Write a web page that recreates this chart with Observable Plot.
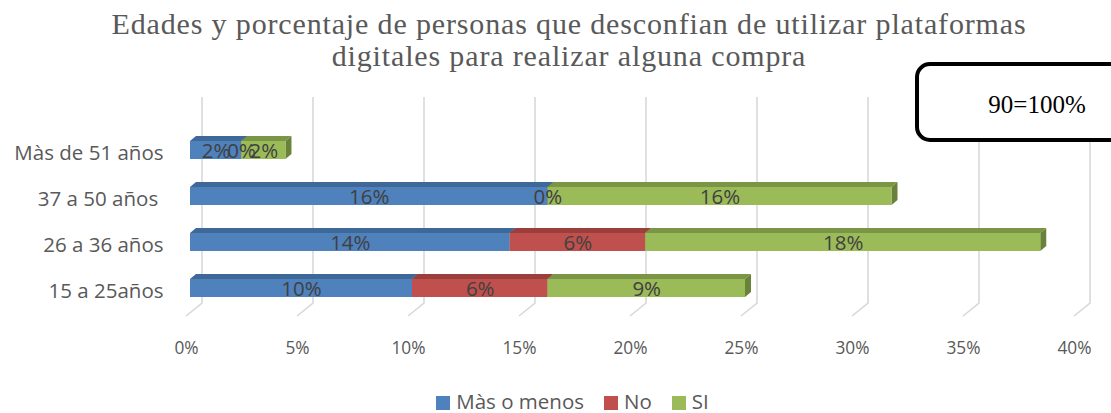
<!DOCTYPE html>
<html><head><meta charset="utf-8">
<script src="https://cdn.jsdelivr.net/npm/d3@7"></script>
<script src="https://cdn.jsdelivr.net/npm/@observablehq/plot@0.6"></script>
<style>
body{margin:0;width:1111px;height:413px;overflow:hidden;background:#fff;position:relative;font-family:"Open Sans",sans-serif;}
#title{font-family:"Liberation Serif","Times New Roman",serif;font-size:30px;letter-spacing:0.85px;line-height:32px;color:#595959;text-align:center;padding:8px 0 0 27px;height:72px;}
#chart svg{display:block;}
#box{position:absolute;left:915px;top:62px;width:236px;height:66px;padding-top:6px;border:4px solid #000;border-radius:15px;background:#fff;font-family:"Liberation Serif","Times New Roman",serif;font-size:25px;color:#000;display:flex;align-items:center;justify-content:center;z-index:2;}
#legend{position:absolute;left:0;top:391px;width:1111px;box-sizing:border-box;padding-left:34px;height:20px;display:flex;justify-content:center;align-items:center;font-size:20.5px;line-height:20px;color:#595959;}
#legend .item{display:flex;align-items:center;margin:0 10px;}
#legend .sw{width:14px;height:14px;margin-right:6px;position:relative;top:2px;}
</style></head>
<body>
<div id="title">Edades y porcentaje de personas que desconfian de utilizar plataformas<br>digitales para realizar alguna compra</div>
<div id="chart"></div>
<div id="box">90=100%</div>
<div id="legend"></div>
<script>
const categories = ["Màs de 51 años", "37 a 50 años\u00a0", "26 a 36 años", "15 a 25años"];
const series = ["Màs o menos", "No", "SI"];
const masOMenos = [2.3, 16.1, 14.4, 10.0];
const noValues = [0, 0, 6.1, 6.1];
const siValues = [2.0, 15.5, 17.8, 8.9];
const xTicks = [0, 5, 10, 15, 20, 25, 30, 35, 40];
const colors = ["#4F81BD", "#C0504D", "#9BBB59"];
const topColors = ["#3E6897", "#9B3F3D", "#7B9546"];
const sideColors = ["#36598A", "#873634", "#6A813A"];

const seriesValues = [masOMenos, noValues, siValues];
const rows = [];
series.forEach((s, si) => categories.forEach((c, ci) => rows.push({series: s, si, cat: c, value: seriesValues[si][ci]})));

const DX = 6, DY = 5;
function bar3d(index, scales, values) {
  const g = d3.create("svg:g");
  const bw = scales.y.bandwidth();
  for (const i of index) {
    const x1 = values.x1[i], x2 = values.x2[i], y0 = values.y[i], y1 = y0 + bw;
    const k = rows[i].si;
    g.append("path").attr("fill", topColors[k])
      .attr("d", `M${x1},${y0}L${x1 + DX},${y0 - DY}L${x2 + DX},${y0 - DY}L${x2},${y0}Z`);
    g.append("path").attr("fill", sideColors[k])
      .attr("d", `M${x2},${y0}L${x2 + DX},${y0 - DY}L${x2 + DX},${y1 - DY}L${x2},${y1}Z`);
    g.append("rect").attr("fill", colors[k]).attr("x", x1).attr("y", y0)
      .attr("width", Math.max(0, x2 - x1)).attr("height", bw);
  }
  return g.node();
}
function grid(index, scales, values) {
  const g = d3.create("svg:g").attr("fill", "none").attr("stroke", "#D9D9D9").attr("stroke-width", 1.6);
  for (const i of index) {
    const x = values.x[i];
    g.append("path").attr("d", `M${x + 12},17V223L${x - 4},236`);
  }
  return g.node();
}

const chart = Plot.plot({
  width: 1111, height: 300,
  marginLeft: 190, marginRight: 33, marginTop: 42, marginBottom: 64,
  style: {fontFamily: "'Open Sans', sans-serif", fontSize: "20px", color: "#595959", background: "transparent"},
  x: {domain: [0, 40], axis: null},
  y: {domain: categories, paddingInner: 0.6, paddingOuter: 0.38, axis: null},
  marks: [
    Plot.ruleX(xTicks, {x: d => d, render: grid}),
    Plot.barX(rows, Plot.stackX({x: "value", y: "cat", z: "series", render: bar3d})),
    Plot.text(rows, Plot.stackX({x: "value", y: "cat", z: "series", text: d => Math.round(d.value) + "%", fill: "#404040", fontSize: 20.5, dy: 1})),
    Plot.axisX({ticks: xTicks, tickFormat: d => d + "%", tickSize: 0, tickPadding: 25, fontSize: 17.3, dx: -4, label: null}),
    Plot.axisY({tickSize: 0, tickPadding: 27, fontSize: 20.5, dy: 3, label: null})
  ]
});
document.getElementById("chart").appendChild(chart);

const legend = document.getElementById("legend");
series.forEach((s, i) => {
  const it = document.createElement("div"); it.className = "item";
  const sw = document.createElement("div"); sw.className = "sw"; sw.style.background = colors[i];
  const t = document.createElement("span"); t.textContent = s;
  it.appendChild(sw); it.appendChild(t); legend.appendChild(it);
});
</script>
</body></html>
